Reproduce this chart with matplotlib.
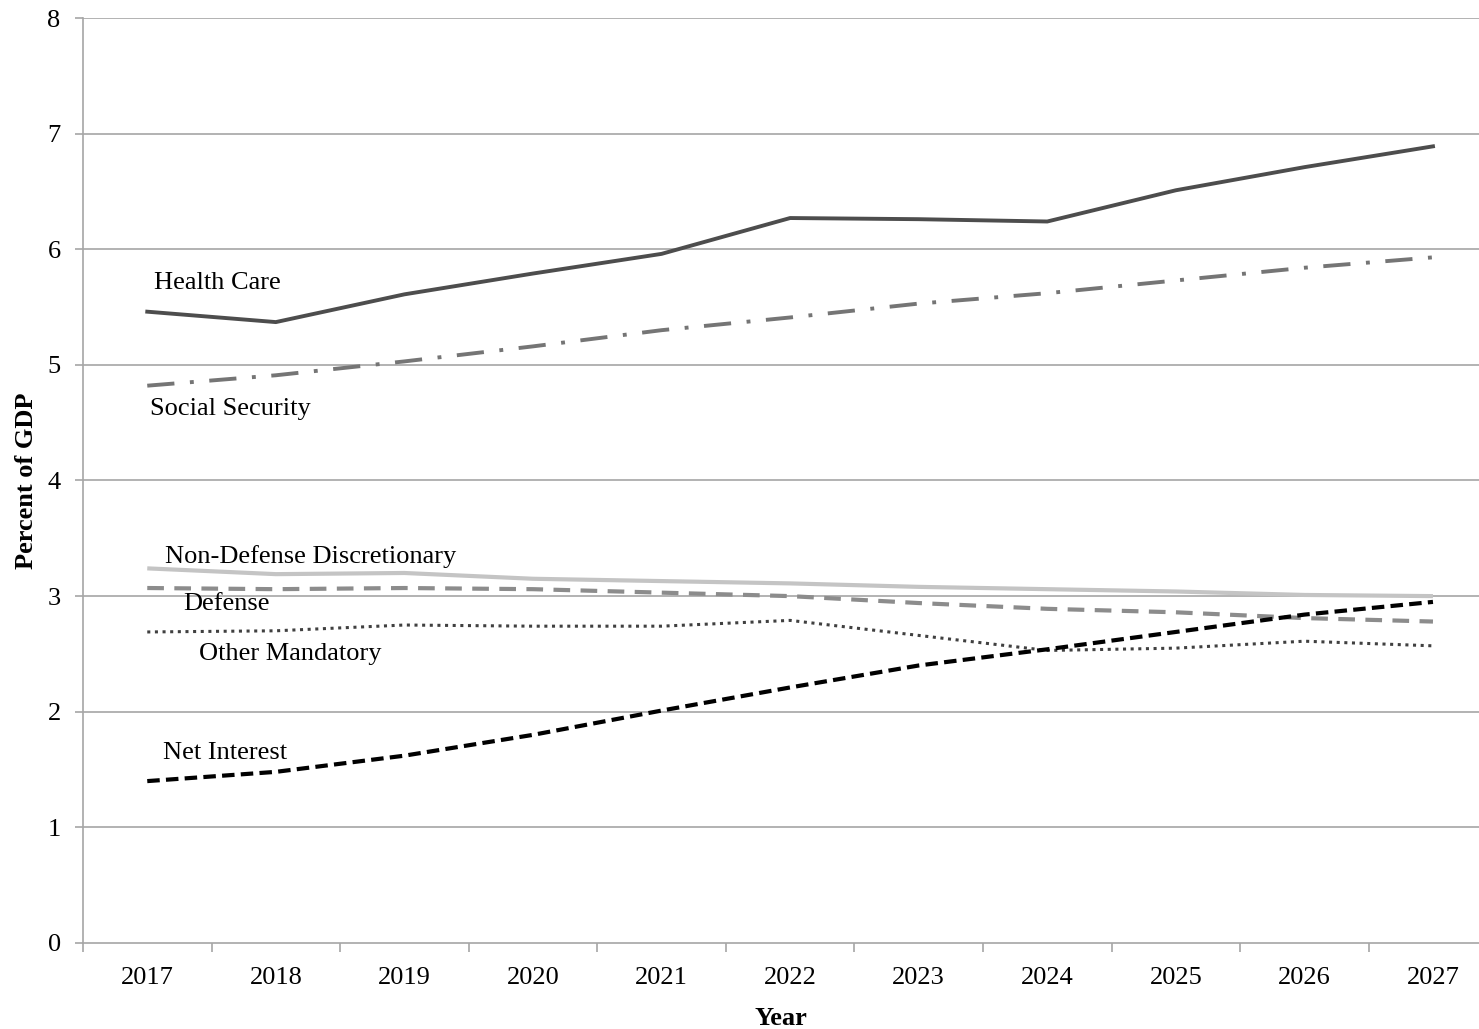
import matplotlib.pyplot as plt

plt.rcParams['font.family'] = ['Liberation Serif', 'DejaVu Serif']

anos = ["2017", "2018", "2019", "2020", "2021", "2022", "2023", "2024", "2025", "2026", "2027"]

health_care = [5.46, 5.37, 5.61, 5.79, 5.96, 6.27, 6.26, 6.24, 6.51, 6.71, 6.89]
social_security = [4.82, 4.91, 5.03, 5.16, 5.30, 5.41, 5.53, 5.62, 5.73, 5.84, 5.93]
non_defense = [3.24, 3.19, 3.20, 3.15, 3.13, 3.11, 3.08, 3.06, 3.04, 3.01, 3.00]
defense = [3.07, 3.06, 3.07, 3.06, 3.03, 3.00, 2.94, 2.89, 2.86, 2.81, 2.78]
other_mandatory = [2.69, 2.70, 2.75, 2.74, 2.74, 2.79, 2.66, 2.53, 2.55, 2.61, 2.57]
net_interest = [1.40, 1.48, 1.62, 1.80, 2.01, 2.21, 2.40, 2.54, 2.69, 2.84, 2.95]

x = list(range(len(anos)))
fs = 19

fig = plt.figure(figsize=(14.79, 10.29), dpi=100)
ax = fig.add_axes([0.0561, 0.0836, 0.9439, 0.8989])

# grid horizontal
for v in range(1, 9):
    ax.axhline(v, color="#a6a6a6", linewidth=1.2, zorder=1)

ax.plot(x, non_defense, color="#c4c4c4", linewidth=3, solid_capstyle="butt", zorder=3)
ax.plot(x, defense, color="#8c8c8c", linewidth=3, linestyle=(0, (4, 2.5)), zorder=3)
ax.plot(x, other_mandatory, color="#404040", linewidth=2.2, linestyle=(0, (1, 1.5)), zorder=3)
ax.plot(x, net_interest, color="black", linewidth=3, linestyle=(0, (3, 1.5)), zorder=4)
ax.plot(x, social_security, color="#757575", linewidth=2.8, linestyle=(0, (7, 4, 1, 4)), zorder=3)
ax.plot(x, health_care, color="#4d4d4d", linewidth=2.8, zorder=3)

# rótulos das séries
ax.text(0.05, 5.71, "Health Care", fontsize=fs, va="center")
ax.text(0.02, 4.62, "Social Security", fontsize=fs, va="center")
ax.text(0.14, 3.34, "Non-Defense Discretionary", fontsize=fs, va="center")
ax.text(0.28, 2.93, "Defense", fontsize=fs, va="center")
ax.text(0.40, 2.50, "Other Mandatory", fontsize=fs, va="center")
ax.text(0.12, 1.64, "Net Interest", fontsize=fs, va="center")

ax.set_xlim(-0.5, 10.358)
ax.set_ylim(0, 8)
ax.set_yticks(range(0, 9))
ax.set_xticks(x)
ax.set_xticklabels(anos)
ax.set_xticks([i + 0.5 for i in range(-1, 10)], minor=True)
ax.tick_params(axis="x", which="major", length=0, pad=17, labelsize=fs)
ax.tick_params(axis="x", which="minor", length=6.5, color="#a6a6a6", width=1.2)
ax.tick_params(axis="y", length=6, color="#a6a6a6", width=1.2, pad=10, labelsize=fs)

for s in ["top", "right"]:
    ax.spines[s].set_visible(False)
for s in ["left", "bottom"]:
    ax.spines[s].set_color("#a6a6a6")
    ax.spines[s].set_linewidth(1.2)

ax.set_xlabel("Year", fontsize=fs, fontweight="bold", labelpad=13)
ax.set_ylabel("Percent of GDP", fontsize=fs, fontweight="bold", labelpad=6.5)

plt.savefig("out.png", dpi=100)
plt.close()
